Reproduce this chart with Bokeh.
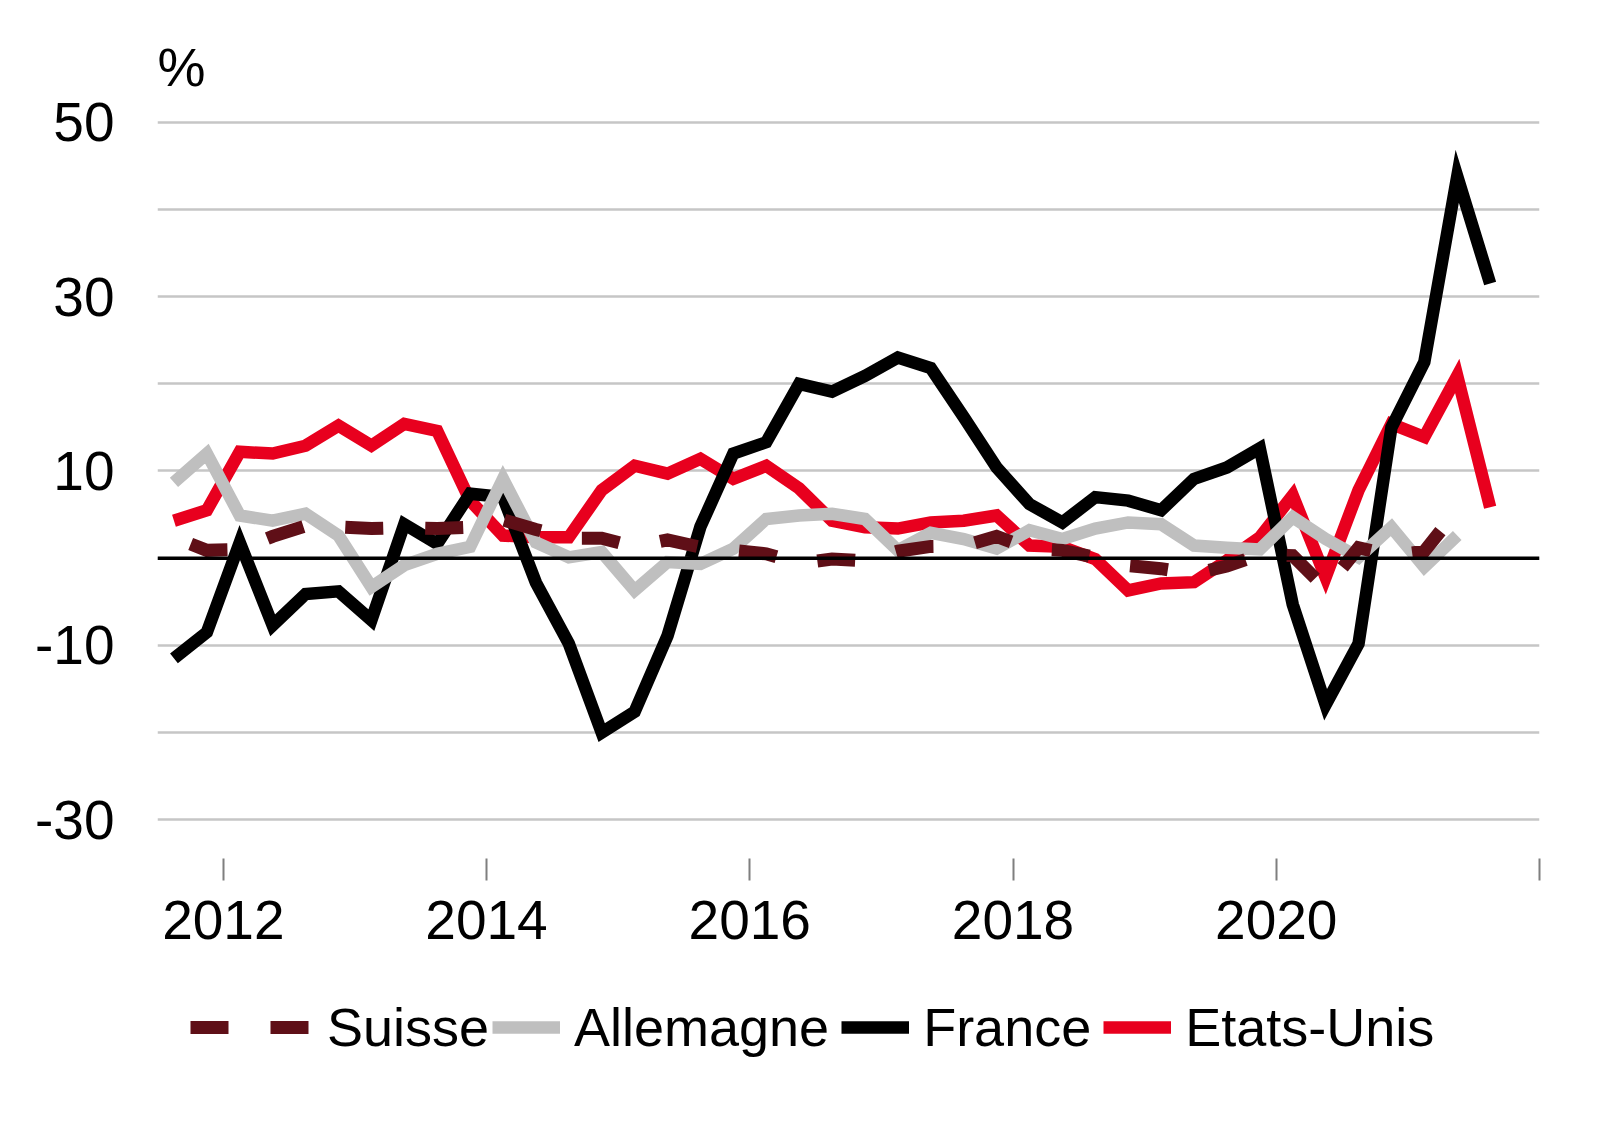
from bokeh.plotting import figure
from bokeh.layouts import column
from bokeh.models import Range1d, FixedTicker, Span, Legend, LegendItem, ColumnDataSource
from bokeh.embed import file_html
from bokeh.resources import INLINE

# quarterly periods, 2011T3 .. 2021T3
quarters = [f"{2011 + (q + 2) // 4}T{(q + 2) % 4 + 1}" for q in range(41)]

suisse = [2.4, 0.9, 1.0, 2.5, 3.7, 3.6, 3.4, 3.5, 3.4, 3.55, 4.4, 3.3, 2.3, 2.3, 1.3, 2.1,
          1.26, 0.9, 0.5, -0.6, -0.1, -0.3, 0.8, 1.35, 1.4, 2.5, 1.1, 0.9, 0.1, -0.85, -1.2,
          -1.8, -0.9, 0.4, 0.3, -3.5, 1.2, 0.3, 0.8, 5.5]
allemagne = [8.7, 12.0, 4.9, 4.3, 5.1, 2.6, -3.3, -0.8, 0.5, 1.3, 9.1, 1.8, 0.1, 0.7, -3.7,
             -0.45, -0.65, 1.1, 4.5, 4.9, 5.1, 4.5, 0.9, 2.9, 2.2, 1.1, 3.2, 2.2, 3.4, 4.1,
             3.9, 1.45, 1.2, 1.0, 4.7, 2.2, 0.1, 3.55, -1.0, 2.6]
france = [-11.5, -8.5, 1.8, -7.7, -4.1, -3.8, -7.1, 3.9, 1.65, 7.4, 7.0, -2.8, -9.8, -20.0,
          -17.6, -8.9, 3.6, 12.0, 13.3, 20.0, 19.1, 20.9, 23.0, 21.8, 16.2, 10.4, 6.2, 4.1,
          7.0, 6.6, 5.5, 9.1, 10.4, 12.6, -5.3, -16.8, -9.8, 15.0, 22.5, 43.8, 31.5]
etats_unis = [4.3, 5.5, 12.2, 12.0, 12.9, 15.2, 12.9, 15.4, 14.6, 6.6, 2.6, 2.4, 2.4, 7.8,
              10.6, 9.7, 11.4, 9.1, 10.6, 8.0, 4.3, 3.55, 3.4, 4.1, 4.3, 4.9, 1.45, 1.3, -0.1,
              -3.7, -2.9, -2.75, -0.25, 2.4, 7.2, -2.2, 7.8, 15.4, 13.9, 20.9, 5.85]

series_names = ["Suisse", "Allemagne", "France", "Etats-Unis"]

year_ticks = [2, 10, 18, 26, 34, 42]
year_labels = ["2012", "2014", "2016", "2018", "2020", ""]
y_ticks = [-30, -20, -10, 0, 10, 20, 30, 40, 50]
y_labels = ["-30", "", "-10", "", "10", "", "30", "", "50"]

FONT = "Liberation Sans"
W = 1590

p = figure(width=W, height=975, output_backend="svg", toolbar_location=None,
           x_range=Range1d(0, 42), y_range=Range1d(-34.44, 52.49),
           min_border_left=157, min_border_right=51, min_border_top=100,
           min_border_bottom=117, title="%")
p.outline_line_color = None
p.background_fill_color = "white"
p.border_fill_color = "white"

p.title.text_font = FONT
p.title.text_font_size = "54px"
p.title.text_font_style = "normal"
p.title.text_color = "black"
p.title.align = "left"
p.title.offset = 0
p.title.standoff = 8

xa = p.xaxis[0]
xa.ticker = FixedTicker(ticks=year_ticks)
xa.major_label_overrides = {t: l for t, l in zip(year_ticks, year_labels)}
xa.axis_line_color = None
xa.major_tick_line_color = "#7f7f7f"
xa.major_tick_line_width = 2
xa.major_tick_out = 22
xa.major_tick_in = 0
xa.minor_tick_line_color = None
xa.major_label_text_font = FONT
xa.major_label_text_font_size = "55px"
xa.major_label_text_color = "black"
xa.major_label_standoff = 20

ya = p.yaxis[0]
ya.ticker = FixedTicker(ticks=y_ticks)
ya.major_label_overrides = {t: l for t, l in zip(y_ticks, y_labels)}
ya.axis_line_color = None
ya.major_tick_line_color = None
ya.minor_tick_line_color = None
ya.major_label_text_font = FONT
ya.major_label_text_font_size = "55px"
ya.major_label_text_color = "black"
ya.major_label_standoff = 37

p.xgrid.grid_line_color = None
p.ygrid.ticker = FixedTicker(ticks=y_ticks)
p.ygrid.grid_line_color = "#c6c6c6"
p.ygrid.grid_line_width = 2.5

p.add_layout(Span(location=0, dimension="width", line_color="black", line_width=3.5))

styles = {
    "Suisse": dict(line_color="#5f0f17", line_width=13, line_dash="38 42", line_join="miter"),
    "Allemagne": dict(line_color="#bfbfbf", line_width=12.5, line_join="miter"),
    "France": dict(line_color="black", line_width=12.5, line_join="miter"),
    "Etats-Unis": dict(line_color="#e8001e", line_width=12.5, line_join="miter"),
}
values = {"Suisse": suisse, "Allemagne": allemagne, "France": france, "Etats-Unis": etats_unis}

xs = [i + 0.5 for i in range(len(quarters))]
for name in ["Etats-Unis", "France", "Allemagne", "Suisse"]:
    vals = values[name]
    src = ColumnDataSource(dict(x=xs[:len(vals)], y=vals))
    extra = dict(line_dash_offset=62) if name == "Suisse" else {}
    p.line("x", "y", source=src, **styles[name], **extra)

# legend strip: a second figure that holds only the legend keys
q = figure(width=W, height=160, output_backend="svg", toolbar_location=None,
           x_range=Range1d(0, 1), y_range=Range1d(0, 1),
           x_axis_type=None, y_axis_type=None, min_border=0)
q.outline_line_color = None
q.grid.visible = False
q.background_fill_color = "white"
q.border_fill_color = "white"

keys = {}
for name in series_names:
    # single off-screen point: nothing is drawn, only the legend key is used
    keys[name] = q.line(x=[-5], y=[-5], **styles[name])


def style_legend(lg, gw):
    lg.orientation = "horizontal"
    lg.border_line_color = None
    lg.background_fill_alpha = 0
    lg.padding = 0
    lg.margin = 0
    lg.spacing = 12
    lg.glyph_width = gw
    lg.glyph_height = 20
    lg.label_standoff = 14
    lg.label_text_font = FONT
    lg.label_text_font_size = "54px"
    lg.label_text_color = "black"


leg1 = Legend(items=[LegendItem(label="Suisse", renderers=[keys["Suisse"]])], location=(33, 77))
style_legend(leg1, 123)
leg2 = Legend(items=[LegendItem(label=n, renderers=[keys[n]]) for n in series_names[1:]],
              location=(335, 77))
style_legend(leg2, 68)
q.add_layout(leg1)
q.add_layout(leg2)

layout = column(p, q, spacing=0)
open("out.html", "w").write(file_html(layout, INLINE))
